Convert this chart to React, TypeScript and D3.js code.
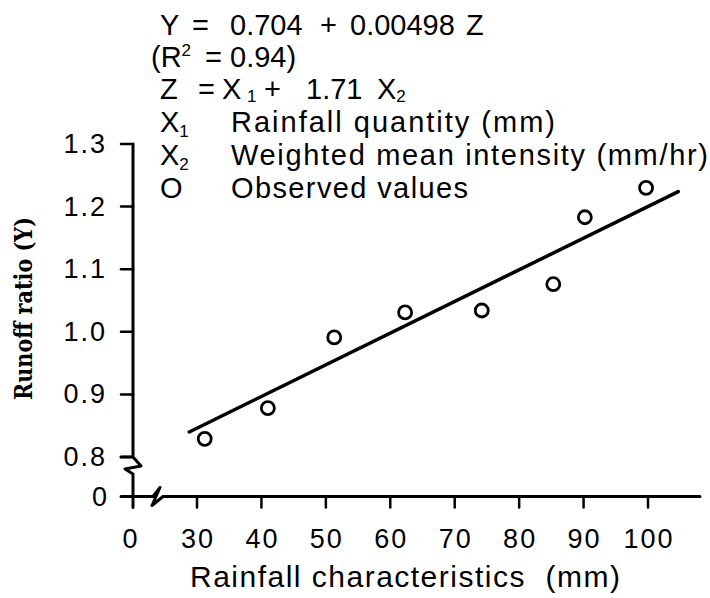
import React from "react";
import * as d3 from "d3";

// ---- data ----
const xTicks = [30, 40, 50, 60, 70, 80, 90, 100];
const yTicks = [0.8, 0.9, 1.0, 1.1, 1.2, 1.3];
const obsX = [31.2, 41.0, 51.3, 62.3, 74.2, 85.3, 90.2, 99.7];
const obsY = [0.829, 0.878, 0.991, 1.031, 1.034, 1.076, 1.183, 1.23];
const fitX = [28.8, 104.7];
const fitY = [0.84, 1.224];

const W = 710;
const H = 598;
const SANS = "'Liberation Sans', Arial, Helvetica, sans-serif";

export default function App() {
  const x = d3.scaleLinear().domain([30, 100]).range([197, 648]);
  const y = d3.scaleLinear().domain([0.8, 1.3]).range([457, 144]);
  // broken-axis origin (value 0 on both axes)
  const x0 = 133;
  const y0 = 496.5;
  const xEnd = 700;
  const fmt = d3.format(".1f");

  const fitLine = d3
    .line<number>()
    .x((_, i) => x(fitX[i]))
    .y((_, i) => y(fitY[i]))(fitX);

  const yb = y(0.8);
  const yAxisPath = `M${x0 - 12},${yb} L${x0},${yb} L${x0 + 8},${yb + 9} L${x0 - 8},${yb + 12} L${x0},${yb + 17} L${x0},${y0 + 11} M${x0},${yb} L${x0},${y(1.3)}`;
  const xAxisPath = `M${x0 - 12},${y0} L${x0 + 20},${y0} L${x0 + 27},${y0 - 9} L${x0 + 19},${y0 + 9} L${x0 + 30},${y0} L${xEnd},${y0}`;

  const legendStyle: React.CSSProperties = { whiteSpace: "pre" };
  const sub = (t: string) => (
    <tspan fontSize={17} dy={5}>
      {t}
    </tspan>
  );

  return (
    <svg
      width={W}
      height={H}
      style={{ position: "absolute", left: 0, top: 0, background: "#fff" }}
      fontFamily={SANS}
    >
      <rect x={0} y={0} width={W} height={H} fill="#fff" />

      {/* legend / equation block */}
      <g fontSize={29} fill="#000" style={legendStyle}>
        <text y={35}>
          <tspan x={160}>Y</tspan>
          <tspan x={192}>=</tspan>
          <tspan x={230}>0.704</tspan>
          <tspan x={320}>+</tspan>
          <tspan x={350}>0.00498</tspan>
          <tspan x={466}>Z</tspan>
        </text>
        <text y={67}>
          <tspan x={151}>(R</tspan>
          <tspan fontSize={17} dy={-11}>2</tspan>
          <tspan x={205} dy={11}>=</tspan>
          <tspan x={230}>0.94)</tspan>
        </text>
        <text y={99}>
          <tspan x={160}>Z</tspan>
          <tspan x={198}>=</tspan>
          <tspan x={222}>X</tspan>
          <tspan x={247} fontSize={17} dy={3}>1</tspan>
          <tspan x={264} dy={-3}>+</tspan>
          <tspan x={306}>1.71</tspan>
          <tspan x={377}>X</tspan>
          <tspan fontSize={17} dy={3}>2</tspan>
        </text>
        <text y={132}>
          <tspan x={160}>X</tspan>
          {sub("1")}
        </text>
        <text x={231} y={132} textLength={324} lengthAdjust="spacing">
          Rainfall quantity (mm)
        </text>
        <text y={165}>
          <tspan x={160}>X</tspan>
          {sub("2")}
        </text>
        <text x={231} y={165} textLength={477} lengthAdjust="spacing">
          Weighted mean intensity (mm/hr)
        </text>
        <text x={160} y={198}>
          O
        </text>
        <text x={231} y={198} textLength={237} lengthAdjust="spacing">
          Observed values
        </text>
      </g>

      {/* axes */}
      <g fill="none" stroke="#000" strokeLinejoin="round" strokeLinecap="round">
        <path d={yAxisPath} strokeWidth={3} />
        <path d={xAxisPath} strokeWidth={3} />
        {yTicks.map((t) => (
          <line key={"yt" + t} x1={x0 - 12} x2={x0} y1={y(t)} y2={y(t)} strokeWidth={2.5} />
        ))}
        {xTicks.map((t) => (
          <line key={"xt" + t} x1={x(t)} x2={x(t)} y1={y0} y2={y0 + 11} strokeWidth={2.5} />
        ))}
      </g>

      {/* tick labels */}
      <g fontSize={27} fill="#000" letterSpacing={2}>
        {yTicks.map((t) => (
          <text key={"yl" + t} x={107} y={y(t)} textAnchor="end" dominantBaseline="central">
            {fmt(t)}
          </text>
        ))}
        <text x={109} y={y0} textAnchor="end" dominantBaseline="central">
          0
        </text>
        {xTicks.map((t) => (
          <text key={"xl" + t} x={x(t) + 1} y={548} textAnchor="middle">
            {t}
          </text>
        ))}
        <text x={x0 - 2} y={548} textAnchor="middle">
          0
        </text>
      </g>

      {/* axis titles */}
      <text
        x={190}
        y={587}
        fontSize={30}
        textLength={430}
        lengthAdjust="spacing"
        style={{ whiteSpace: "pre" }}
      >
        Rainfall characteristics  (mm)
      </text>
      <text
        transform={`translate(32,308.5) rotate(-90)`}
        textAnchor="middle"
        fontFamily="'DejaVu Serif', 'Liberation Serif', serif"
        fontWeight="bold"
        fontSize={24}
        textLength={183}
        lengthAdjust="spacingAndGlyphs"
      >
        Runoff ratio (Y)
      </text>

      {/* regression line */}
      <path d={fitLine ?? ""} fill="none" stroke="#000" strokeWidth={3.5} strokeLinecap="round" />

      {/* observed points */}
      <g fill="#fff" stroke="#000" strokeWidth={2.8}>
        {obsX.map((v, i) => (
          <circle key={"p" + i} cx={x(v)} cy={y(obsY[i])} r={6.5} />
        ))}
      </g>
    </svg>
  );
}
